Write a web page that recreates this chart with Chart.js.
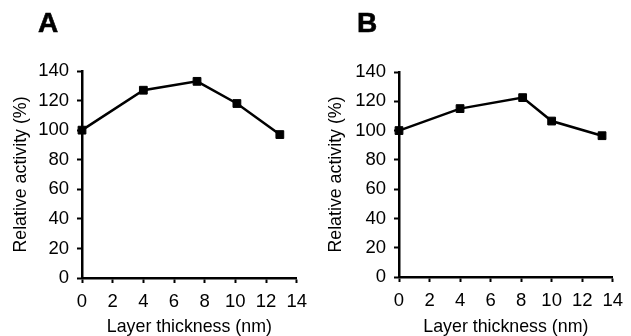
<!DOCTYPE html>
<html>
<head>
<meta charset="utf-8">
<script src="https://cdn.jsdelivr.net/npm/chart.js@4.4.1/dist/chart.umd.min.js"></script>
<style>
  html, body { margin: 0; padding: 0; background: #fff; }
  #wrap { position: relative; width: 631px; height: 336px; overflow: hidden; }
  .box { position: absolute; top: 0; height: 336px; }
  .panel { position: absolute; font-family: "Liberation Sans", Arial, sans-serif; font-weight: bold; font-size: 28px; color: #000; line-height: 1; -webkit-text-stroke: 0.6px #000; }
</style>
</head>
<body>
<div id="wrap">
  <div class="box" style="left:0;width:315px"><canvas id="cA" width="315" height="336"></canvas></div>
  <div class="box" style="left:315px;width:316px"><canvas id="cB" width="316" height="336"></canvas></div>
  <div class="panel" style="left:38px;top:9px">A</div>
  <div class="panel" style="left:357px;top:9px">B</div>
</div>
<script>
// ---- data ----
const panelLabels = ["A", "B"];
const thicknessA = [0, 4, 7.5, 10.1, 12.9];
const activityA  = [100, 127, 133, 118, 97];
const thicknessB = [0, 4, 8.1, 10, 13.3];
const activityB  = [100, 115, 122.5, 106.5, 96.5];
const xTicks = [0, 2, 4, 6, 8, 10, 12, 14];
const yTicks = [0, 20, 40, 60, 80, 100, 120, 140];
const xTitle = "Layer thickness (nm)";
const yTitle = "Relative activity (%)";

const FONT = "'Liberation Sans', Arial, sans-serif";

function makeChart(id, xs, ys, geom) {
  const pts = xs.map((x, i) => ({ x: x, y: ys[i] }));
  return new Chart(document.getElementById(id), {
    type: 'line',
    data: {
      datasets: [{
        data: pts,
        borderColor: '#000',
        backgroundColor: '#000',
        borderWidth: 2.5,
        pointStyle: 'rect',
        pointRadius: 5.5,
        pointBorderWidth: 1,
        pointBackgroundColor: '#000',
        pointBorderColor: '#000',
        tension: 0,
        clip: false
      }]
    },
    options: {
      responsive: false,
      animation: false,
      events: [],
      layout: { padding: { left: 0, top: geom.top, right: geom.right, bottom: 0 } },
      plugins: { legend: { display: false }, tooltip: { enabled: false } },
      scales: {
        x: {
          type: 'linear',
          min: xTicks[0], max: xTicks[xTicks.length - 1],
          afterBuildTicks: s => { s.ticks = xTicks.map(v => ({ value: v })); },
          afterFit: s => { s.height = geom.xh; },
          border: { display: true, color: '#000', width: 2.5 },
          grid: { drawOnChartArea: false, drawTicks: true, tickLength: 5, tickWidth: 2, tickColor: '#000' },
          ticks: { color: '#000', padding: 8, maxRotation: 0, font: { family: FONT, size: 18.5 } },
          title: { display: true, text: xTitle, color: '#000', padding: { top: 0, bottom: 0 }, font: { family: FONT, size: 17.8, lineHeight: 1 } }
        },
        y: {
          type: 'linear',
          min: yTicks[0], max: yTicks[yTicks.length - 1],
          afterBuildTicks: s => { s.ticks = yTicks.map(v => ({ value: v })); },
          afterFit: s => { s.width = geom.yw; },
          border: { display: true, color: '#000', width: 2.5 },
          grid: { drawOnChartArea: false, drawTicks: true, tickLength: 5, tickWidth: 2, tickColor: '#000' },
          ticks: { color: '#000', padding: 8, font: { family: FONT, size: 18.5 } },
          title: { display: true, text: yTitle, color: '#000', padding: { top: 12, bottom: 0 }, font: { family: FONT, size: 17.8, lineHeight: 1 } }
        }
      }
    }
  });
}

makeChart('cA', thicknessA, activityA, { top: 71, right: 13, xh: 58, yw: 82 });
makeChart('cB', thicknessB, activityB, { top: 72, right: 10, xh: 59, yw: 84 });
</script>
</body>
</html>
